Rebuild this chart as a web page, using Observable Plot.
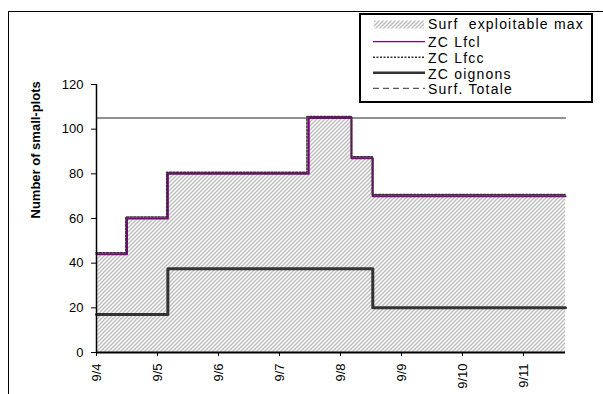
<!DOCTYPE html>
<html><head><meta charset="utf-8">
<script src="https://cdn.jsdelivr.net/npm/d3@7"></script>
<script src="https://cdn.jsdelivr.net/npm/@observablehq/plot@0.6"></script>
<style>
html,body{margin:0;padding:0;background:#fff;overflow:hidden;}
#wrap{position:relative;width:603px;height:394px;overflow:hidden;font-family:"Liberation Sans",Arial,sans-serif;}
#frame{position:absolute;left:8px;top:10.5px;width:700px;height:500px;border-left:1.5px solid #000;border-top:1.5px solid #000;}
#chart{position:absolute;left:0;top:0;}
#legend{position:absolute;left:359px;top:13px;}
</style></head><body>
<div id="wrap"><div id="frame"></div><div id="chart"></div><div id="legend"></div></div>
<script>
// ---- data (day of September, fractional) ----
const surfDays   = [4, 4.5, 5.17, 7.48, 8.18, 8.53, 11.69];
const surfValues = [44, 60, 80, 105, 87, 70, 70];
const lfccDays   = [4, 4.49, 5.16, 7.46, 8.19, 8.53, 11.69];
const lfccValues = [44, 60, 80, 105, 87, 70, 70];
const oignonDays   = [4, 5.17, 8.53, 11.69];
const oignonValues = [17, 37.5, 20, 20];
const totalDays   = [4, 11.69];
const totalValues = [105, 105];
const xTicks = [4, 5, 6, 7, 8, 9, 10, 11];
const xTickLabels = ["9/4", "9/5", "9/6", "9/7", "9/8", "9/9", "9/10", "9/11"];
const yTicks = [0, 20, 40, 60, 80, 100, 120];
const yTitle = "Number of small-plots";
const seriesNames = ["Surf  exploitable max", "ZC Lfcl", "ZC Lfcc", "ZC oignons", "Surf. Totale"];

const toRows = (days, vals) => days.map((d, i) => ({day: d, value: vals[i]}));
const surf = toRows(surfDays, surfValues);
const lfcc = toRows(lfccDays, lfccValues);
const oignons = toRows(oignonDays, oignonValues);
const total = toRows(totalDays, totalValues);

function hatchDefs(id) {
  const defs = d3.create("svg:defs");
  const p = defs.append("pattern").attr("id", id).attr("patternUnits", "userSpaceOnUse")
    .attr("width", 4).attr("height", 4);
  p.append("rect").attr("width", 4).attr("height", 4).attr("fill", "#ffffff");
  p.append("path").attr("d", "M-1,1 L1,-1 M0,4 L4,0 M3,5 L5,3")
    .attr("stroke", "#bdbdbd").attr("stroke-width", 1.4);
  return defs.node();
}

const chart = Plot.plot({
  width: 603, height: 394,
  marginLeft: 96, marginRight: 38, marginTop: 84, marginBottom: 42,
  style: {fontFamily: "'Liberation Sans', Arial, sans-serif", fontSize: "13px", color: "#000", background: "transparent", overflow: "visible"},
  x: {domain: [4, 11.69]},
  y: {domain: [0, 120]},
  marks: [
    () => hatchDefs("hatch"),
    Plot.areaY(surf, {x: "day", y: "value", curve: "step-after", fill: "url(#hatch)"}),
    Plot.lineY(total, {x: "day", y: "value", stroke: "#222", strokeWidth: 1}),
    Plot.lineY(oignons, {x: "day", y: "value", curve: "step-after", stroke: "#333", strokeWidth: 3}),
    Plot.lineY(surf, {x: "day", y: "value", curve: "step-after", stroke: "#800080", strokeWidth: 2}),
    Plot.lineY(lfcc, {x: "day", y: "value", curve: "step-after", stroke: "#333", strokeWidth: 1.6, strokeDasharray: "2,1.5", dy: -1.5, dx: -0.5}),
    Plot.ruleX([4], {stroke: "#000", strokeWidth: 1.5}),
    Plot.ruleY([0], {stroke: "#000", strokeWidth: 2}),
    Plot.axisY({ticks: yTicks, tickSize: 5, tickPadding: 8, label: null}),
    Plot.axisX({ticks: xTicks, tickFormat: d => xTickLabels[xTicks.indexOf(d)], tickSize: 4, tickPadding: 7, tickRotate: -90, label: null}),
    Plot.text([yTitle], {frameAnchor: "left", rotate: -90, dx: -61, fontWeight: "bold", fontSize: 13, style: {letterSpacing: "0.8px"}})
  ]
});
document.getElementById("chart").appendChild(chart);

// ---- legend ----
const lg = d3.select("#legend").append("svg").attr("width", 234).attr("height", 90)
  .style("font-family", "'Liberation Sans', Arial, sans-serif").style("overflow", "visible");
lg.node().appendChild(hatchDefs("hatchL"));
lg.append("rect").attr("x", 1).attr("y", 1).attr("width", 232).attr("height", 88)
  .attr("fill", "#fff").attr("stroke", "#000").attr("stroke-width", 2);
lg.append("rect").attr("x", 15).attr("y", 7.5).attr("width", 50).attr("height", 8).attr("fill", "url(#hatchL)");
const sampleStyles = [
  null,
  {stroke: "#800080", w: 1.2, dash: null},
  {stroke: "#333", w: 1.6, dash: "2,1.5"},
  {stroke: "#333", w: 2.5, dash: null},
  {stroke: "#333", w: 1, dash: "6,4"}
];
const lineYs = [11.5, 28.7, 44.3, 59.7, 75.3];
const baseYs = [15.8, 34, 50, 65.5, 81];
seriesNames.forEach((name, i) => {
  const s = sampleStyles[i];
  if (s) {
    lg.append("line").attr("x1", 14).attr("x2", 66).attr("y1", lineYs[i]).attr("y2", lineYs[i])
      .attr("stroke", s.stroke).attr("stroke-width", s.w).attr("stroke-dasharray", s.dash);
  }
  lg.append("text").attr("x", 69).attr("y", baseYs[i]).attr("font-size", 14)
    .attr("letter-spacing", "1.2px").attr("xml:space", "preserve").style("white-space", "pre").text(name);
});
</script>
</body></html>
